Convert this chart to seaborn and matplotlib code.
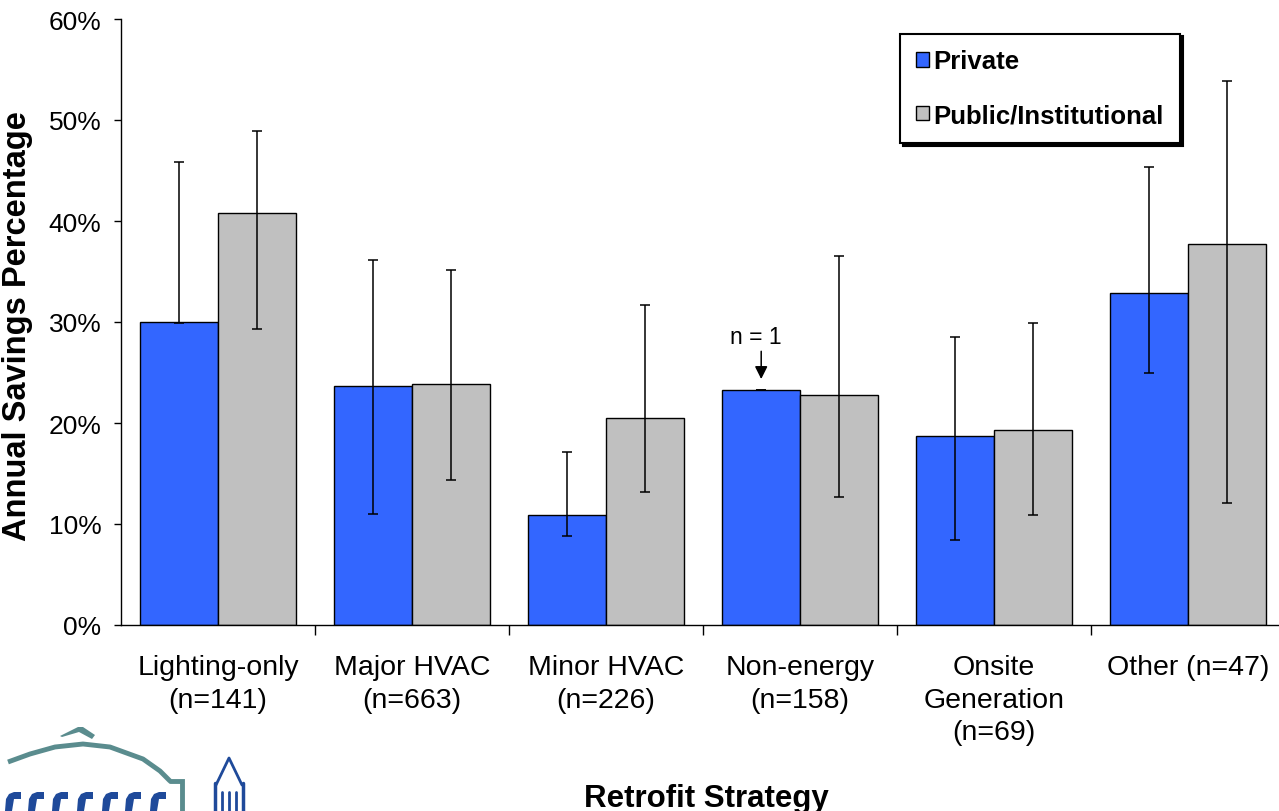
import numpy as np
import pandas as pd
import matplotlib
matplotlib.use("Agg")
import matplotlib.pyplot as plt
from matplotlib.patches import Polygon
import seaborn as sns

# Retrofit strategies (x categories)
categories = [
    "Lighting-only\n(n=141)",
    "Major HVAC\n(n=663)",
    "Minor HVAC\n(n=226)",
    "Non-energy\n(n=158)",
    "Onsite\nGeneration\n(n=69)",
    "Other (n=47)",
]
sectors = ["Private", "Public/Institutional"]

# Median annual savings (%) and the low/high range of each group
private_pct = [30.0, 23.7, 10.9, 23.3, 18.7, 32.9]
public_pct = [40.8, 23.9, 20.5, 22.8, 19.3, 37.7]
private_low = [29.9, 11.0, 8.8, 23.3, 8.4, 25.0]
private_high = [45.8, 36.1, 17.1, 23.3, 28.5, 45.3]
public_low = [29.3, 14.4, 13.2, 12.7, 10.9, 12.1]
public_high = [48.9, 35.1, 31.7, 36.5, 29.9, 53.9]

colors = ["#3366FF", "#C0C0C0"]

df = pd.DataFrame({
    "Strategy": categories * 2,
    "Sector": [sectors[0]] * len(categories) + [sectors[1]] * len(categories),
    "Savings": private_pct + public_pct,
})

sns.set_theme(style="white")
plt.rcParams["font.family"] = ["Liberation Sans", "DejaVu Sans"]
for key in ["text.color", "axes.labelcolor", "xtick.color", "ytick.color"]:
    plt.rcParams[key] = "black"

fig = plt.figure(figsize=(12.79, 8.12), dpi=100)
ax = fig.add_axes([121 / 1279, 186 / 812, 1164 / 1279, 606 / 812])

sns.barplot(data=df, x="Strategy", y="Savings", hue="Sector", order=categories,
            hue_order=sectors, palette=colors, edgecolor="black", linewidth=1.0,
            errorbar=None, width=0.8, saturation=1, ax=ax)

# Range bars drawn on each bar's center
bar_containers = list(ax.containers)
lows = [private_low, public_low]
highs = [private_high, public_high]
centers = {}
for k, cont in enumerate(bar_containers):
    xs = [b.get_x() + b.get_width() / 2 for b in cont]
    hs = [b.get_height() for b in cont]
    centers[k] = xs
    yerr = np.array([[h - lo for h, lo in zip(hs, lows[k])],
                     [hi - h for h, hi in zip(hs, highs[k])]])
    ax.errorbar(xs, hs, yerr=yerr, fmt="none", ecolor="black",
                elinewidth=1.1, capsize=3.7, capthick=1.1, zorder=5)

# Single-building note on the private non-energy bar
xn = centers[0][3]
ax.annotate("", xy=(xn, private_pct[3] + 1.05), xytext=(xn, private_pct[3] + 3.8),
            arrowprops=dict(arrowstyle="-|>", color="black", lw=1.1,
                            mutation_scale=19, shrinkA=0, shrinkB=0), zorder=6)
ax.text(xn - 0.03, 28.6, "n = 1", ha="center", va="center", fontsize=16.5)

ax.set_ylim(0, 60)
ax.set_xlim(-0.5, len(categories) - 0.5)
ax.set_yticks(np.arange(0, 61, 10))
ax.set_yticklabels([f"{v}%" for v in range(0, 61, 10)])
ax.tick_params(axis="y", which="major", direction="out", length=5, width=1,
               color="black", labelsize=19, pad=9, left=True)
ax.set_xticks(range(len(categories)))
ax.set_xticklabels(categories, linespacing=1.32)
ax.tick_params(axis="x", which="major", length=0, labelsize=20.5, pad=21)
ax.set_xticks(np.arange(0.5, len(categories) - 0.5, 1), minor=True)
ax.tick_params(axis="x", which="minor", direction="out", length=7, width=1,
               color="black", bottom=True)

for side in ["top", "right"]:
    ax.spines[side].set_visible(False)
for side in ["left", "bottom"]:
    ax.spines[side].set_color("black")
    ax.spines[side].set_linewidth(1.0)

ax.set_ylabel("Annual Savings Percentage", fontsize=23.5, fontweight="bold")
ax.yaxis.set_label_coords(-0.076, 0.495)
ax.set_xlabel("Retrofit Strategy", fontsize=22.5, fontweight="bold")
ax.xaxis.set_label_coords(0.503, -0.26)

handles, labels = ax.get_legend_handles_labels()
leg = ax.legend(handles, labels, loc="upper right", bbox_to_anchor=(0.9098, 0.976),
                borderaxespad=0, frameon=True, fancybox=False,
                shadow={"color": "black", "alpha": 1},
                prop={"weight": "bold", "size": 18.5}, handlelength=0.5,
                handleheight=0.5, handletextpad=0.2, labelspacing=1.15,
                borderpad=0.62)
leg.get_frame().set_edgecolor("black")
leg.get_frame().set_linewidth(1.5)

# Laboratory logo in the lower-left corner (pixel coordinates)
lax = fig.add_axes([0, 0, 300 / 1279, 92 / 812])
lax.set_xlim(0, 300)
lax.set_ylim(92, 0)
lax.axis("off")
teal = "#5A8C8E"
navy = "#1F4A9A"
arc_x = np.array([8, 30, 55, 83, 110, 143, 160, 170])
arc_y = np.array([43, 35, 28, 25, 28, 40, 52, 62])
lax.plot(arc_x, arc_y, color=teal, lw=3.5, solid_capstyle="butt")
lax.plot([170, 182, 182], [62, 62, 92], color=teal, lw=3.5, solid_joinstyle="miter")
lax.add_patch(Polygon([[60, 17], [78, 8], [83, 8], [95, 16], [92, 20], [79, 13],
                       [62, 18]], closed=True, color=teal, lw=0))
for x0 in [5, 28, 52, 77, 102, 125, 150]:
    lax.add_patch(Polygon([[x0, 92], [x0 + 1, 80], [x0 + 4, 75], [x0 + 9, 73],
                           [x0 + 16, 73], [x0 + 16, 80], [x0 + 9, 80], [x0 + 7, 92]],
                          closed=True, color=navy, lw=0))
lax.plot([216, 229, 242], [66, 39, 66], color=navy, lw=2)
for xx in [215, 243]:
    lax.plot([xx, xx], [64, 92], color=navy, lw=2.5)
for xx in [222, 229, 236]:
    lax.plot([xx, xx], [73, 92], color=navy, lw=2)

fig.savefig("out.png", dpi=100)
